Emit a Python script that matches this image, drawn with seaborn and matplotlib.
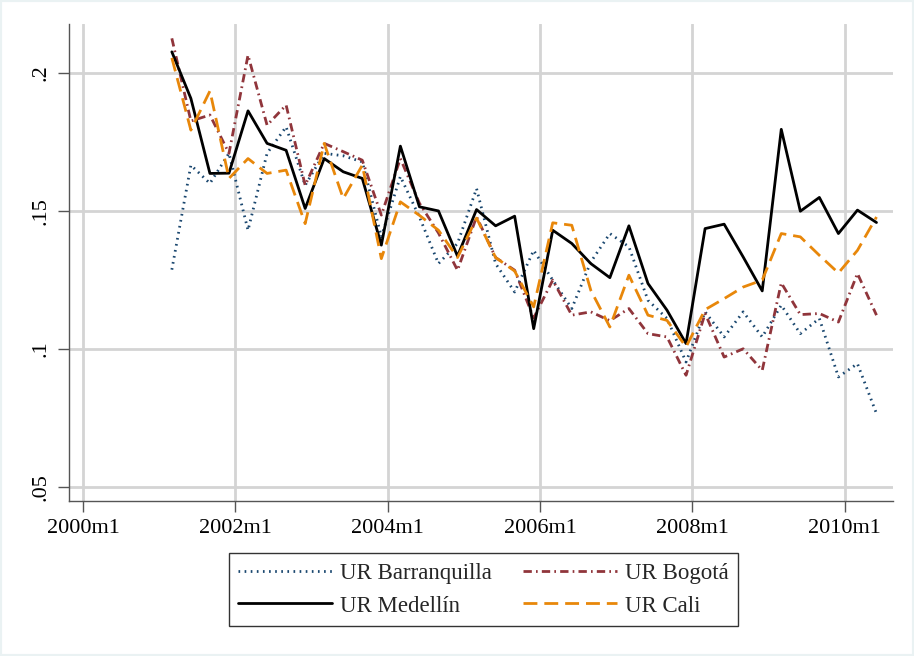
import matplotlib
matplotlib.use("Agg")
import matplotlib.pyplot as plt
import matplotlib.patches as mpatches
import seaborn as sns
import pandas as pd
import numpy as np

# Quarterly observations, 2001m3 .. 2010m6
periods = pd.period_range("2001-03", "2010-06", freq="3M")
months = [(p.year - 2000) * 12 + (p.month - 1) for p in periods]

ur_barranquilla = [0.1287, 0.1666, 0.1600, 0.1709, 0.1430, 0.1709, 0.1805, 0.1593,
                   0.1709, 0.1700, 0.1678, 0.1406, 0.1625, 0.1478, 0.1309, 0.1382,
                   0.1581, 0.1309, 0.1206, 0.1357, 0.1249, 0.1146, 0.1315, 0.1418,
                   0.1370, 0.1176, 0.1110, 0.0952, 0.1134, 0.1043, 0.1134, 0.1043,
                   0.1158, 0.1055, 0.1110, 0.0898, 0.0946, 0.0765]
ur_bogota = [0.2126, 0.1826, 0.1848, 0.1709, 0.2065, 0.1811, 0.1884, 0.1593,
             0.1745, 0.1715, 0.1684, 0.1485, 0.1690, 0.1528, 0.1420, 0.1285,
             0.1479, 0.1331, 0.1285, 0.1112, 0.1249, 0.1122, 0.1134, 0.1102,
             0.1146, 0.1055, 0.1043, 0.0904, 0.1128, 0.0970, 0.1000, 0.0922,
             0.1239, 0.1124, 0.1128, 0.1097, 0.1273, 0.1122]
ur_medellin = [0.2077, 0.1908, 0.1636, 0.1637, 0.1863, 0.1745, 0.1720, 0.1509,
               0.1690, 0.1642, 0.1618, 0.1376, 0.1735, 0.1515, 0.1500, 0.1336,
               0.1505, 0.1446, 0.1481, 0.1073, 0.1430, 0.1382, 0.1309, 0.1258,
               0.1446, 0.1237, 0.1140, 0.1019, 0.1436, 0.1452, 0.1333, 0.1210,
               0.1796, 0.1499, 0.1549, 0.1418, 0.1503, 0.1458]
ur_cali = [0.2055, 0.1793, 0.1935, 0.1618, 0.1690, 0.1636, 0.1648, 0.1454,
           0.1745, 0.1545, 0.1666, 0.1327, 0.1533, 0.1484, 0.1430, 0.1331,
           0.1474, 0.1331, 0.1282, 0.1152, 0.1457, 0.1448, 0.1212, 0.1079,
           0.1267, 0.1122, 0.1103, 0.1007, 0.1142, 0.1182, 0.1224, 0.1249,
           0.1418, 0.1406, 0.1339, 0.1275, 0.1357, 0.1478]

series_names = ["UR Barranquilla", "UR Bogotá", "UR Medellín", "UR Cali"]
xtick_labels = ["2000m1", "2002m1", "2004m1", "2006m1", "2008m1", "2010m1"]
ytick_values = [0.05, 0.10, 0.15, 0.20]
ytick_labels = [".05", ".1", ".15", ".2"]

df = pd.DataFrame({
    "month": months * 4,
    "value": ur_barranquilla + ur_bogota + ur_medellin + ur_cali,
    "series": sum([[n] * len(months) for n in series_names], []),
})

sns.set_theme(style="white")
plt.rcParams["font.family"] = ["Liberation Serif", "DejaVu Serif"]

fig = plt.figure(figsize=(9.14, 6.56), dpi=100)
fig.patch.set_facecolor("white")
fig.patches.append(mpatches.Rectangle((0, 0), 1, 1, transform=fig.transFigure,
                                      fill=False, edgecolor="#eaf2f3", linewidth=3,
                                      zorder=-1))
ax = fig.add_axes([69 / 914, 1 - 501 / 656, (893 - 69) / 914, (501 - 24) / 656])
ax.set_facecolor("white")

styles = {
    "UR Barranquilla": dict(color="#1a476f", dashes=(0.6, 1.6), lw=2.0),
    "UR Bogotá": dict(color="#90353b", dashes=(3.0, 1.5, 0.6, 1.5), lw=2.0),
    "UR Medellín": dict(color="#000000", dashes=None, lw=2.0),
    "UR Cali": dict(color="#e8870a", dashes=(5.0, 2.5), lw=2.0),
}

handles = {}
for name in series_names:
    st = styles[name]
    sub = df[df["series"] == name]
    sns.lineplot(data=sub, x="month", y="value", ax=ax, color=st["color"],
                 linewidth=st["lw"], label=name, zorder=3)
    ln = ax.get_lines()[-1]
    if st["dashes"] is not None:
        ln.set_dashes(st["dashes"])
    handles[name] = ln

ax.set_xlim(-2.2, 127.6)
ax.set_ylim(0.0448, 0.2178)
xt = [(int(l[:4]) - 2000) * 12 for l in xtick_labels]
ax.set_xticks(xt)
ax.set_xticklabels(xtick_labels, fontsize=16)
ax.set_yticks(ytick_values)
ax.set_yticklabels(ytick_labels, fontsize=16, rotation=90, va="center")
ax.set_xlabel("")
ax.set_ylabel("")
ax.grid(True, color="#d4d4d4", linewidth=2.0, zorder=0)
ax.set_axisbelow(True)
for s in ["top", "right"]:
    ax.spines[s].set_visible(False)
for s in ["left", "bottom"]:
    ax.spines[s].set_color("#555555")
    ax.spines[s].set_linewidth(1.0)
ax.tick_params(axis="both", which="major", length=8, width=1.0, color="#555555",
               direction="out", bottom=True, left=True, pad=5, labelcolor="black")

ax.get_legend().remove()
order = ["UR Barranquilla", "UR Medellín", "UR Bogotá", "UR Cali"]
leg = fig.legend(handles=[handles[n] for n in order], labels=order, ncol=2,
                 loc="center", bbox_to_anchor=(483.5 / 914, 1 - 589.5 / 656),
                 fontsize=16.5, frameon=True, fancybox=False, edgecolor="black",
                 handlelength=4.1, columnspacing=1.35, handletextpad=0.35,
                 borderpad=0.4, labelspacing=0.52, borderaxespad=0)
leg.get_frame().set_linewidth(1.0)

fig.savefig("out.png", dpi=100, facecolor=fig.get_facecolor())
